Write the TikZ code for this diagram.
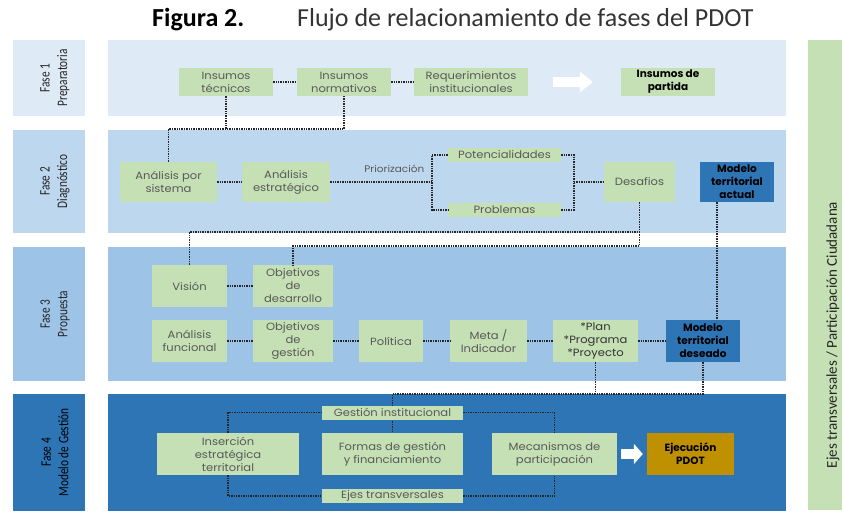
\documentclass[tikz,border=0pt]{standalone}
\usepackage{fontspec}
\setmainfont{Poppins}
\newfontfamily\cajafont[FakeStretch=1.1]{Poppins}
\newfontfamily\calfont{Carlito}
\newfontfamily\condfont[FakeStretch=0.78]{Carlito}
\usetikzlibrary{arrows.meta}

\definecolor{fase1}{HTML}{DEEBF7}
\definecolor{fase2}{HTML}{BDD7EE}
\definecolor{fase3}{HTML}{9DC3E6}
\definecolor{fase4}{HTML}{2E75B6}
\definecolor{verde}{HTML}{C5E0B4}
\definecolor{oro}{HTML}{BF9000}
\definecolor{gris}{HTML}{595959}

\tikzset{
  caja/.style={fill=verde, text=gris, align=center, inner sep=0pt,
    font=\cajafont\fontsize{10.5}{13}\selectfont},
  clave/.style={caja, text=black, font=\fontsize{10.5}{13}\selectfont\bfseries},
  modelo/.style={clave, fill=fase4},
  punteado/.style={densely dotted, line width=1.4pt, black!85},
  flecha/.style={line width=10pt, white, -{Triangle[length=#1,width=20pt]}},
  flecha/.default=13pt,
  etiqueta/.style={rotate=90, align=center, text=black!85,
    font=\condfont\fontsize{14.5}{17.5}\selectfont},
}

\begin{document}
\begin{tikzpicture}[x=1pt,y=-1pt]
  \useasboundingbox (0,0) rectangle (842,513);
  \clip (0,0) rectangle (842,513);

  \node[anchor=west, inner sep=0pt, font=\calfont\fontsize{26}{29}\selectfont\bfseries] (fig) at (152,20) {Figura 2.};
  \node[anchor=west, inner sep=0pt, text=black!80, font=\calfont\fontsize{26}{29}\selectfont] (tit) at (297,20) {Flujo de relacionamiento de fases del PDOT};

  \fill[fase1] (13,40) rectangle (85,116);
  \fill[fase1] (108,40) rectangle (786,116);
  \fill[fase2] (13,130) rectangle (85,233);
  \fill[fase2] (108,130) rectangle (786,233);
  \fill[fase3] (13,247) rectangle (85,381);
  \fill[fase3] (108,247) rectangle (786,381);
  \fill[fase4] (13,394) rectangle (85,511);
  \fill[fase4] (108,394) rectangle (786,511);
  \fill[verde] (808,40) rectangle (850,510);

  \node[etiqueta] (f1) at (55,78) {Fase 1\\Preparatoria};
  \node[etiqueta] (f2) at (55,181.5) {Fase 2\\Diagnóstico};
  \node[etiqueta] (f3) at (55,314) {Fase 3\\Propuesta};
  \node[etiqueta, text=black] (f4) at (55,452.5) {Fase 4\\Modelo de Gestión};
  \node[rotate=90, inner sep=0pt, text=black!85, font=\calfont\fontsize{15}{17}\selectfont] (ejbar) at (833,335) {Ejes transversales / Participación Ciudadana};

  \coordinate (r1) at (0,129);
  \coordinate (r2a) at (0,232);
  \coordinate (r2b) at (0,246);
  \coordinate (r3) at (0,394);
  \coordinate (r4a) at (0,413);
  \coordinate (r4b) at (0,496);

  \begin{scope}[every node/.style={caja, minimum height=28}]
    \node[minimum width=94] (tec) at (226,82) {Insumos\\técnicos};
    \node[minimum width=94] (norm) at (344,82) {Insumos\\normativos};
    \node[minimum width=114] (req) at (471,82) {Requerimientos\\institucionales};
    \node[clave, minimum width=94] (part) at (668,82) {Insumos de\\partida};
  \end{scope}

  \begin{scope}[every node/.style={caja, minimum height=40}]
    \node[minimum width=97] (sis) at (168.5,182) {Análisis por\\sistema};
    \node[minimum width=88] (est) at (286,182) {Análisis\\estratégico};
    \node[minimum width=113, minimum height=14] (pot) at (504.5,155) {Potencialidades};
    \node[minimum width=113, minimum height=14] (prob) at (504.5,210) {Problemas};
    \node[minimum width=71] (des) at (639.5,182) {Desafios};
    \node[modelo, minimum width=74] (act) at (737,182) {Modelo\\territorial\\actual};
  \end{scope}
  \coordinate (bl) at (432,182);
  \coordinate (br) at (574,182);

  \begin{scope}[every node/.style={caja, minimum height=42}]
    \node[minimum width=75] (vis) at (189.5,286) {Visión};
    \node[minimum width=80] (objd) at (293,286) {Objetivos\\de\\desarrollo};
    \node[minimum width=75] (afun) at (189.5,341) {Análisis\\funcional};
    \node[minimum width=80] (objg) at (293,341) {Objetivos\\de\\gestión};
    \node[minimum width=64] (pol) at (391,341) {Política};
    \node[minimum width=77] (meta) at (488.5,341) {Meta /\\Indicador};
    \node[minimum width=85, text=black!80] (plan) at (595.5,341) {*Plan\\*Programa\\*Proyecto};
    \node[modelo, minimum width=74] (des2) at (703,341) {Modelo\\territorial\\deseado};
  \end{scope}

  \begin{scope}[every node/.style={caja, minimum height=42}]
    \node[minimum width=142] (ins) at (228,454) {Inserción\\estratégica\\territorial};
    \node[minimum width=141] (form) at (392.5,454) {Formas de gestión\\y financiamiento};
    \node[minimum width=125] (mec) at (554.5,454) {Mecanismos de\\participación};
    \node[clave, fill=oro, minimum width=87] (ejec) at (690.5,454) {Ejecución\\PDOT};
  \end{scope}

  \begin{scope}[every edge/.style={draw,punteado}]
    \path (tec) edge (norm);
    \path (norm) edge (req);
    \path (sis) edge (est);
    \path (est) edge node[above=5pt, pos=0.63, text=gris, font=\cajafont\fontsize{9.5}{11}\selectfont] (prio) {Priorización} (bl);
    \path (br) edge (des);
    \path (vis) edge (objd);
    \path (afun) edge (objg);
    \path (objg) edge (pol);
    \path (pol) edge (meta);
    \path (meta) edge (plan);
    \path (plan) edge (des2);
    \path ([xshift=-20pt]act.south) edge ([xshift=-20pt]act.south |- des2.north);
  \end{scope}

  \draw[punteado] (tec.south) -- (tec.south |- r1) -| (norm.south);
  \draw[punteado] (sis.north) |- (tec.south |- r1);
  \draw[punteado] (pot.west) -| (bl) |- (prob.west);
  \draw[punteado] (pot.east) -| (br) |- (prob.east);
  \draw[punteado] (des.south) -- (des.south |- r2a) -| (vis.north);
  \draw[punteado] (des.south |- r2a) -- (des.south |- r2b) -| (objd.north);
  \draw[punteado] (plan.south) -- (plan.south |- r3);
  \draw[punteado] (des2.south) -- (des2.south |- r3) -| (form.north);

  \begin{scope}[every node/.style={caja, minimum width=141, minimum height=14}]
    \node (gi) at (392.5,412.5) {Gestión institucional};
    \node (ejes) at (392.5,496) {Ejes transversales};
  \end{scope}

  \draw[punteado] (ins.north) |- (gi.west);
  \draw[punteado] (gi.east) -| (mec.north);
  \draw[punteado] (ins.south) |- (ejes.west);
  \draw[punteado] (ejes.east) -| (mec.south);

  \draw[flecha, shorten <=25pt, shorten >=28pt] (req) -- (part);
  \draw[flecha=9pt, shorten <=4pt, shorten >=4pt] (mec) -- (ejec);

\end{tikzpicture}
\end{document}
